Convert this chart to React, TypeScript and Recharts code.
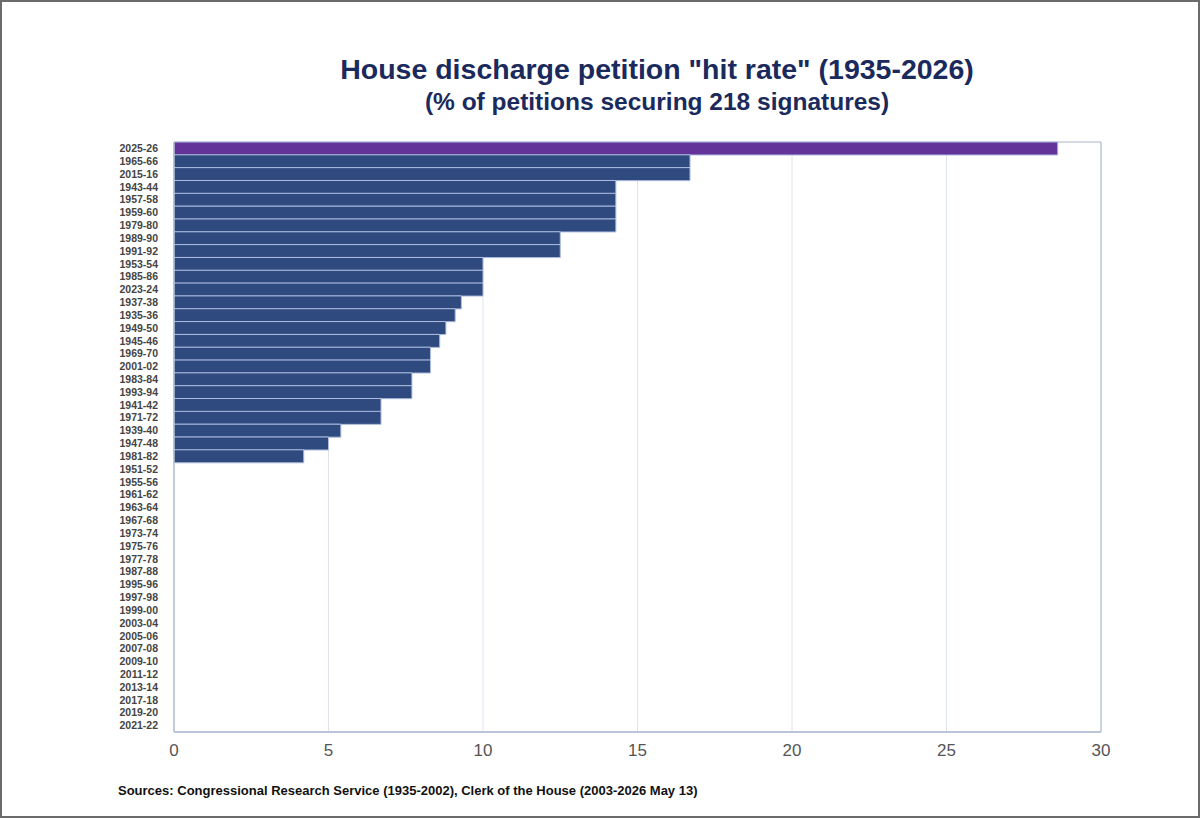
import { BarChart, Bar, XAxis, YAxis, CartesianGrid, Cell, ReferenceArea } from "recharts";

const periods = [
  "2025-26", "1965-66", "2015-16", "1943-44", "1957-58", "1959-60", "1979-80", "1989-90",
  "1991-92", "1953-54", "1985-86", "2023-24", "1937-38", "1935-36", "1949-50", "1945-46",
  "1969-70", "2001-02", "1983-84", "1993-94", "1941-42", "1971-72", "1939-40", "1947-48",
  "1981-82", "1951-52", "1955-56", "1961-62", "1963-64", "1967-68", "1973-74", "1975-76",
  "1977-78", "1987-88", "1995-96", "1997-98", "1999-00", "2003-04", "2005-06", "2007-08",
  "2009-10", "2011-12", "2013-14", "2017-18", "2019-20", "2021-22",
];

// % of petitions reaching 218 signatures
const hitRates = [
  28.6, 16.7, 16.7, 14.3, 14.3, 14.3, 14.3, 12.5,
  12.5, 10, 10, 10, 9.3, 9.1, 8.8, 8.6,
  8.3, 8.3, 7.7, 7.7, 6.7, 6.7, 5.4, 5.0,
  4.2, 0, 0, 0, 0, 0, 0, 0,
  0, 0, 0, 0, 0, 0, 0, 0,
  0, 0, 0, 0, 0, 0,
];

const xTicks = [0, 5, 10, 15, 20, 25, 30];
const currentCongress = "2025-26";

const data = periods.map((name, i) => ({ name, rate: hitRates[i] }));

const sans = '"Liberation Sans Narrow", "Liberation Sans", Arial, sans-serif';

export default function App() {
  return (
    <div
      style={{
        position: "absolute",
        left: 0,
        top: 0,
        width: 1200,
        height: 818,
        boxSizing: "border-box",
        border: "2px solid #6b6b6b",
        background: "#fff",
        fontFamily: sans,
      }}
    >
      <div
        style={{
          position: "absolute",
          left: 0,
          top: 50,
          width: 1310,
          textAlign: "center",
          color: "#1b2a5c",
          fontWeight: 700,
          fontSize: 28.5,
          lineHeight: "34px",
        }}
      >
        House discharge petition "hit rate" (1935-2026)
      </div>
      <div
        style={{
          position: "absolute",
          left: 0,
          top: 85,
          width: 1310,
          textAlign: "center",
          color: "#1b2a5c",
          fontWeight: 700,
          fontSize: 24.5,
          lineHeight: "30px",
        }}
      >
        (% of petitions securing 218 signatures)
      </div>

      <div style={{ position: "absolute", left: -2, top: -2 }}>
        <BarChart
          width={1200}
          height={818}
          data={data}
          layout="vertical"
          barCategoryGap={0}
          margin={{ top: 142, right: 99, bottom: 46, left: 0 }}
        >
          <CartesianGrid horizontal={false} stroke="#dfe4ec" />
          <XAxis
            type="number"
            domain={[0, 30]}
            ticks={xTicks}
            height={40}
            axisLine={{ stroke: "#b9c5d8", strokeWidth: 2 }}
            tickLine={false}
            tickMargin={6}
            tick={{ fontSize: 17, fill: "#555", fontFamily: sans }}
          />
          <YAxis
            type="category"
            dataKey="name"
            width={174}
            interval={0}
            axisLine={{ stroke: "#b9c5d8" }}
            tickLine={false}
            tickMargin={10}
            tick={{ fontSize: 10.5, fill: "#444", fontWeight: 700, fontFamily: sans }}
          />
          <ReferenceArea x1={0} x2={30} fill="none" stroke="#aab6cc" strokeWidth={1} />
          <Bar dataKey="rate" isAnimationActive={false} stroke="#aebde0" strokeWidth={1}>
            {data.map((d) => (
              <Cell key={d.name} fill={d.name === currentCongress ? "#633399" : "#2f4a7e"} />
            ))}
          </Bar>
        </BarChart>
      </div>

      <div
        style={{
          position: "absolute",
          left: 116,
          top: 781,
          fontSize: 13,
          fontWeight: 700,
          color: "#111",
        }}
      >
        Sources: Congressional Research Service (1935-2002), Clerk of the House (2003-2026 May 13)
      </div>
    </div>
  );
}
